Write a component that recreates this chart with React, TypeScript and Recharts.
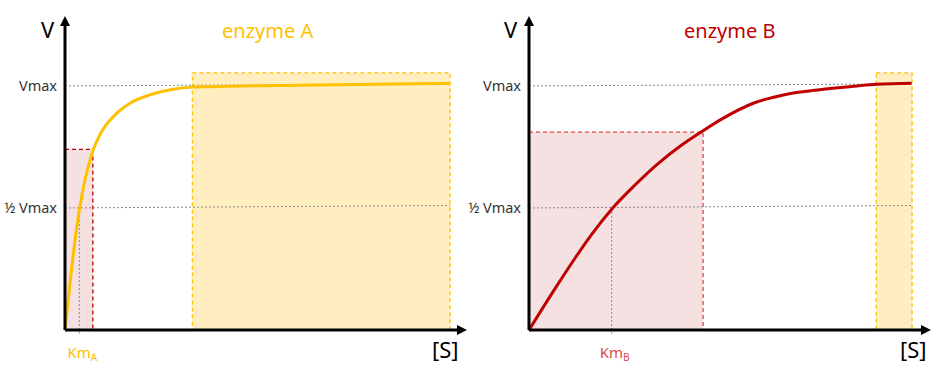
import React from 'react';
import {
  ComposedChart, Line, XAxis, YAxis, ReferenceArea, ReferenceLine, ReferenceDot,
} from 'recharts';

// substrate concentration [S] and velocity V (Vmax = 1)
const S_A = [0, 0.5, 1.01, 1.44, 2.01, 2.78, 3.69, 4.85, 6.53, 8.54, 10.88, 12.89, 14.57, 23.6, 38.7];
const V_A = [0, 0.191, 0.369, 0.492, 0.615, 0.731, 0.813, 0.874, 0.929, 0.963, 0.986, 0.995, 0.997, 1.003, 1.01];

const S_B = [0, 2.94, 4.62, 6.3, 8.31, 10.65, 13.0, 15.35, 17.36, 19.53, 22.54, 25.56, 29.58, 32.93, 34.95, 38.46];
const V_B = [0, 0.19, 0.294, 0.392, 0.495, 0.594, 0.683, 0.758, 0.813, 0.868, 0.929, 0.963, 0.986, 1.0, 1.007, 1.011];

const KM_A = 1.44;
const KM_B = 8.31;
// highlighted regions [x1, x2, y top]
const LOW_A = [0, 2.8, 0.74];
const SAT_A = [12.8, 38.7, 1.053];
const LOW_B = [0, 17.5, 0.811];
const SAT_B = [34.9, 38.5, 1.053];

const X_MAX = 40;
const Y_MAX = 1.27;
const Y_TICKS = [0.5, 1];

const YELLOW = '#FFC000';
const RED = '#C00000';
const FONT = '"Noto Sans", sans-serif';

const toData = (s: number[], v: number[]) => s.map((x, i) => ({ s: x, v: v[i] }));

const ArrowRight = (props: any) => (
  <path d={`M${props.cx + 4},${props.cy} L${props.cx - 6},${props.cy - 5} L${props.cx - 6},${props.cy + 5} Z`} fill="#000" />
);
const ArrowUp = (props: any) => (
  <path d={`M${props.cx},${props.cy - 4} L${props.cx - 5},${props.cy + 6} L${props.cx + 5},${props.cy + 6} Z`} fill="#000" />
);

interface PanelProps {
  data: { s: number; v: number }[];
  km: number;
  low: number[];
  sat: number[];
  color: string;
  lowStroke: string;
  kmColor: string;
  sub: string;
}

function Panel({ data, km, low, sat, color, lowStroke, kmColor, sub }: PanelProps) {
  const lineEnd = data[data.length - 1].s;
  const KmTick = (p: any) => (
    <text x={p.x + 3} y={p.y + 20} textAnchor="middle" fill={kmColor} fontSize={15} fontFamily={FONT}>
      Km<tspan fontSize={10} dy={3}>{sub}</tspan>
    </text>
  );
  return (
    <ComposedChart
      width={510}
      height={375}
      data={data}
      margin={{ top: 20, right: 7, bottom: 15, left: 45 }}
    >
      <XAxis
        dataKey="s"
        type="number"
        domain={[0, X_MAX]}
        ticks={[km]}
        tick={KmTick}
        tickLine={false}
        axisLine={{ stroke: '#000', strokeWidth: 3 }}
        height={30}
      />
      <YAxis
        type="number"
        domain={[0, Y_MAX]}
        ticks={Y_TICKS}
        tickFormatter={(t) => (t === 1 ? 'Vmax' : '½ Vmax')}
        tick={{ fill: '#333', fontSize: 14.5, fontFamily: FONT }}
        tickLine={false}
        tickMargin={2}
        axisLine={{ stroke: '#000', strokeWidth: 3 }}
        width={60}
      />
      <ReferenceArea x1={sat[0]} x2={sat[1]} y1={0} y2={sat[2]}
        fill="#FFEFC0" fillOpacity={1} stroke={YELLOW} strokeDasharray="4 3" strokeWidth={1.3} />
      <ReferenceArea x1={low[0]} x2={low[1]} y1={0} y2={low[2]}
        fill="#F5E1E1" fillOpacity={1} stroke={lowStroke} strokeDasharray="4 3" strokeWidth={1.3} />
      <ReferenceLine segment={[{ x: 0, y: 1 }, { x: lineEnd, y: 1.008 }]} stroke="#888" strokeDasharray="2 2" />
      <ReferenceLine segment={[{ x: 0, y: 0.5 }, { x: lineEnd, y: 0.51 }]} stroke="#888" strokeDasharray="2 2" />
      <ReferenceLine segment={[{ x: km, y: 0.5 }, { x: km, y: -0.015 }]} stroke="#888" strokeDasharray="2 2" ifOverflow="visible" />
      <Line
        dataKey="v"
        type="monotone"
        stroke={color}
        strokeWidth={3}
        dot={false}
        isAnimationActive={false}
      />
      <ReferenceDot x={X_MAX} y={0} r={0} shape={ArrowRight} ifOverflow="visible" />
      <ReferenceDot x={0} y={Y_MAX} r={0} shape={ArrowUp} ifOverflow="visible" />
    </ComposedChart>
  );
}

const txt = (left: number, top: number, size: number, color: string, s: string) => (
  <div style={{ position: 'absolute', left, top, fontSize: size, color, fontFamily: FONT, lineHeight: 1, whiteSpace: 'nowrap' }}>
    {s}
  </div>
);

export default function App() {
  return (
    <div style={{ position: 'absolute', left: 0, top: 0, width: 941, height: 375, background: '#fff', overflow: 'hidden' }}>
      <div style={{ position: 'absolute', left: -40, top: 0 }}>
        <Panel data={toData(S_A, V_A)} km={KM_A} low={LOW_A} sat={SAT_A}
          color={YELLOW} lowStroke={RED} kmColor={YELLOW} sub="A" />
      </div>
      <div style={{ position: 'absolute', left: 424, top: 0 }}>
        <Panel data={toData(S_B, V_B)} km={KM_B} low={LOW_B} sat={SAT_B}
          color={RED} lowStroke="#E04848" kmColor="#E04848" sub="B" />
      </div>
      {txt(41, 18, 22, '#000', 'V')}
      {txt(504, 18, 22, '#000', 'V')}
      {txt(222, 21, 20, YELLOW, 'enzyme A')}
      {txt(684, 21, 20, RED, 'enzyme B')}
      {txt(432, 338, 22, '#000', '[S]')}
      {txt(900, 338, 22, '#000', '[S]')}
    </div>
  );
}
